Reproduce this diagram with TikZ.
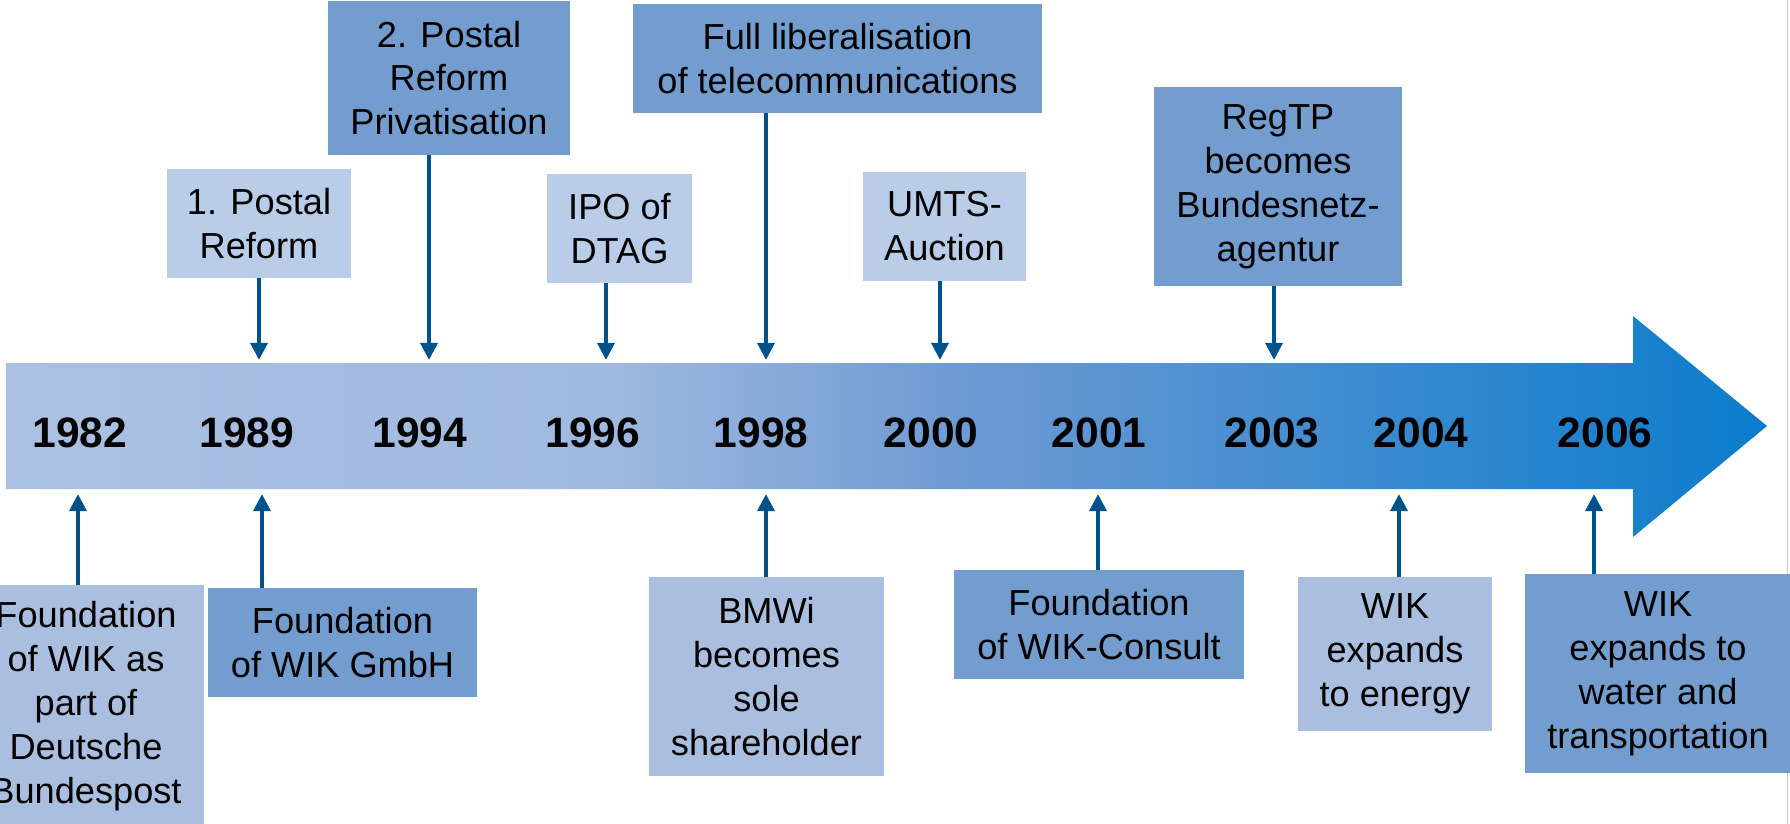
\documentclass[tikz,border=0pt]{standalone}
\usepackage{fontspec}
\setmainfont{Liberation Sans}
\usepackage{tikz}
\usetikzlibrary{arrows.meta,positioning,calc}
\definecolor{wiklight}{RGB}{185,205,232}
\definecolor{wikpale}{RGB}{170,191,224}
\definecolor{wikmid}{RGB}{115,157,207}
\definecolor{wikarrow}{RGB}{0,82,140}
\definecolor{barA}{RGB}{171,193,227}
\definecolor{barB}{RGB}{160,185,223}
\definecolor{barC}{RGB}{110,154,211}
\definecolor{barD}{RGB}{10,124,204}
\pgfdeclarehorizontalshading{barshade}{100bp}{color(0bp)=(barA); color(25bp)=(barA); color(42bp)=(barB); color(52bp)=(barC); color(75bp)=(barD); color(100bp)=(barD)}
\tikzset{
    event/.style={rectangle, text centered, align=center, inner sep=0pt, font=\fontsize{20.6}{25}\selectfont},
    lightevent/.style={event, fill=wiklight},
    paleevent/.style={event, fill=wikpale},
    midevent/.style={event, fill=wikmid},
    line/.style={draw=wikarrow, line width=2.3pt, -{Triangle[length=9.7pt, width=9.5pt]}},
    year/.style={inner sep=0pt, font=\fontsize{24.2}{29}\selectfont\bfseries}
}

\begin{document}
\begin{tikzpicture}[x=0.02cm, y=-0.02cm]
    \clip (0,0) rectangle (1790,824);

    % Frame edge
    \draw[black!20, line width=0.6pt] (1787,0) -- (1787,824);

    % Timeline arrow
    \shade[shading=barshade] (6,363) -- (1633,363) -- (1633,316) -- (1767,426)
        -- (1633,537) -- (1633,489) -- (6,489) -- cycle;

    % Years
    \foreach \x/\yr in {80/1982, 247/1989, 420/1994, 593/1996, 761/1998,
                        931/2000, 1099/2001, 1272/2003, 1421/2004, 1605/2006} {
        \node[year] (y\yr) at (\x,433) {\yr};
    }

    % Arrow ends on the bar
    \coordinate (a1989) at (259,360);
    \coordinate (a1994) at (429,360);
    \coordinate (a1996) at (606,360);
    \coordinate (a1998) at (766,360);
    \coordinate (a2000) at (940,360);
    \coordinate (a2003) at (1274,360);
    \coordinate (b1982) at (78,494);
    \coordinate (b1989) at (262,494);
    \coordinate (b1998) at (766,494);
    \coordinate (b2001) at (1098,494);
    \coordinate (b2004) at (1399,494);
    \coordinate (b2006) at (1594,494);

    % Events above the timeline
    \node[lightevent, minimum width=3.68cm, minimum height=2.18cm] at (259,223.5) (pr1) {
        1. Postal\\
        Reform
    };
    \node[midevent, minimum width=4.84cm, minimum height=3.08cm] at (449,78) (pr2) {
        2. Postal\\
        Reform\\
        Privatisation
    };
    \node[lightevent, minimum width=2.9cm, minimum height=2.18cm] at (619.5,228.5) (ipo) {
        IPO of\\
        DTAG
    };
    \node[midevent, minimum width=8.18cm, minimum height=2.18cm] at (837.5,58.5) (lib) {
        Full liberalisation\\
        of telecommunications
    };
    \node[lightevent, minimum width=3.26cm, minimum height=2.18cm] at (944.5,226.5) (umts) {
        UMTS-\\
        Auction
    };
    \node[midevent, minimum width=4.96cm, minimum height=3.98cm] at (1278,186.5) (regtp) {
        RegTP\\
        becomes\\
        Bundesnetz-\\
        agentur
    };

    % Events below the timeline
    \node[paleevent, minimum width=4.72cm, minimum height=4.84cm] at (86,706) (wik) {
        Foundation\\
        of WIK as\\
        part of\\
        Deutsche\\
        Bundespost
    };
    \node[midevent, minimum width=5.38cm, minimum height=2.18cm] at (342.5,642.5) (gmbh) {
        Foundation\\
        of WIK GmbH
    };
    \node[paleevent, minimum width=4.7cm, minimum height=3.98cm] at (766.5,676.5) (bmwi) {
        BMWi\\
        becomes\\
        sole\\
        shareholder
    };
    \node[midevent, minimum width=5.8cm, minimum height=2.18cm] at (1099,624.5) (consult) {
        Foundation\\
        of WIK-Consult
    };
    \node[paleevent, minimum width=3.88cm, minimum height=3.08cm] at (1395,654) (energy) {
        WIK\\
        expands\\
        to energy
    };
    \node[midevent, minimum width=5.32cm, minimum height=3.98cm] at (1658,673.5) (water) {
        WIK\\
        expands to\\
        water and\\
        transportation
    };

    % Connectors
    \foreach \n/\c in {pr1/a1989, pr2/a1994, ipo/a1996, lib/a1998, umts/a2000, regtp/a2003} {
        \draw[line] (\c |- \n.south) -- (\c);
    }
    \foreach \n/\c in {wik/b1982, gmbh/b1989, bmwi/b1998, consult/b2001, energy/b2004, water/b2006} {
        \draw[line] (\c |- \n.north) -- (\c);
    }
\end{tikzpicture}
\end{document}
